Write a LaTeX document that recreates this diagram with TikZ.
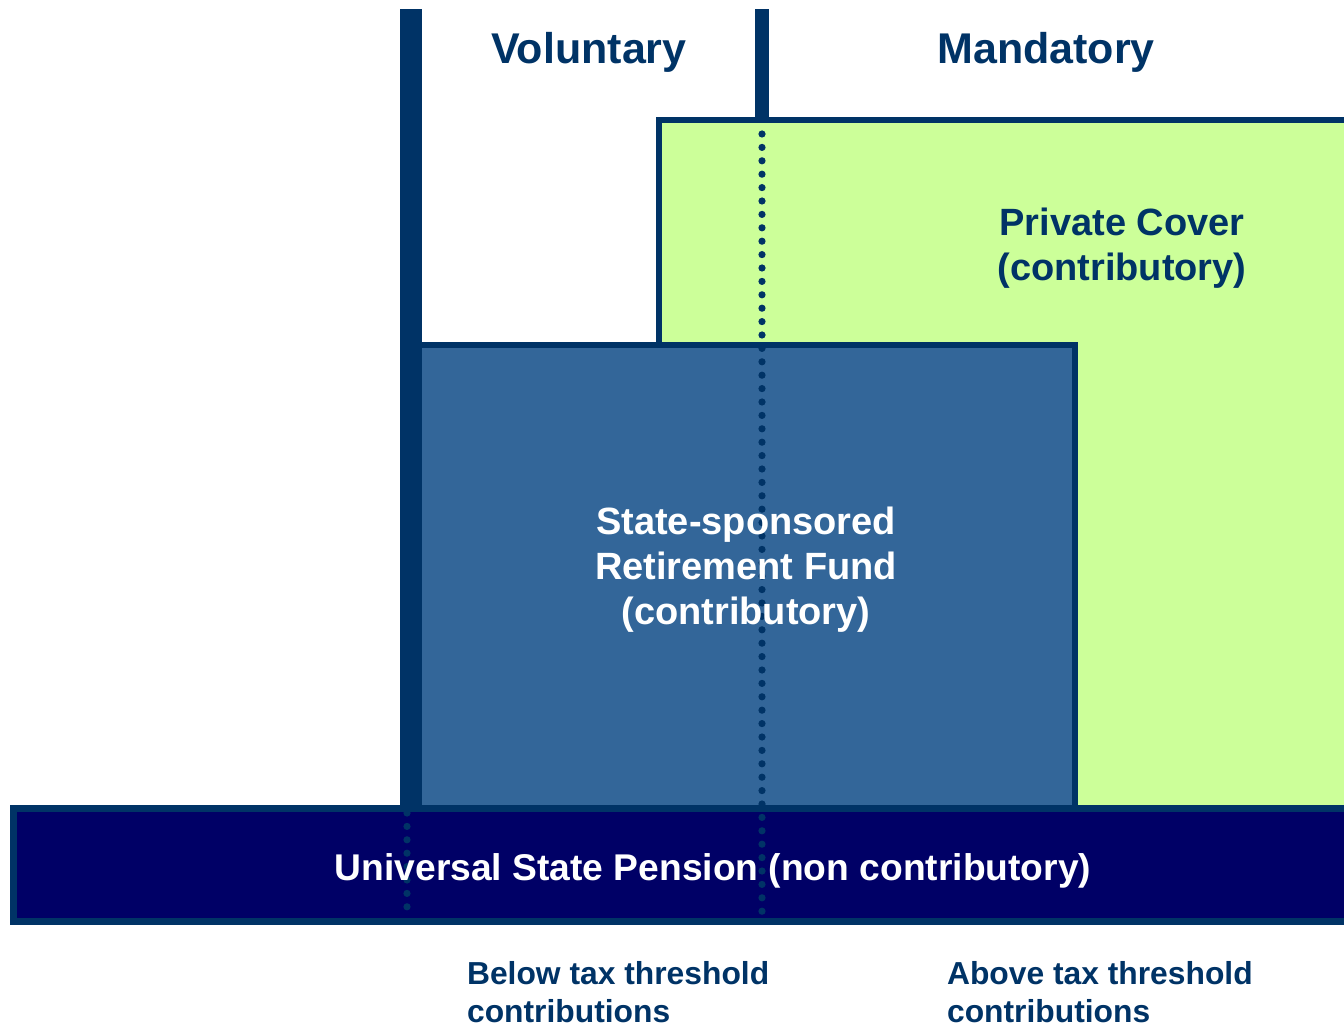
\documentclass[tikz,border=0pt]{standalone}
\usepackage{fontspec}
\setmainfont{Liberation Sans}
\definecolor{navy}{HTML}{003366}
\definecolor{deepnavy}{HTML}{000066}
\definecolor{lime}{HTML}{CCFF99}
\definecolor{steel}{HTML}{336699}
\begin{document}
\begin{tikzpicture}[x=0.5pt,y=-0.5pt,
    frame/.style={draw=navy,line width=3pt},
    dotline/.style={navy,line width=3.6pt,line cap=round,dash pattern=on 0pt off 6.7pt},
    head/.style={text=navy,font=\fontsize{21.5}{25}\selectfont\bfseries},
    boxtext/.style={align=center,font=\fontsize{19}{22.5}\selectfont\bfseries},
    foot/.style={text=navy,align=left,anchor=west,font=\fontsize{15.9}{19}\selectfont\bfseries}]
        \clip (0,0) rectangle (1344,1026);
        %% Private cover
        \draw[frame,fill=lime] (659,120.5) rectangle (1360,808);
        %% State fund
        \draw[frame,fill=steel] (411,345) rectangle (1075,808);
        %% Bars
        \fill[navy] (400,9) rectangle (422,808);
        \fill[navy] (755,9) rectangle (769,120);
        %% Universal pension
        \draw[navy,line width=3.5pt,fill=deepnavy] (13.5,808.5) rectangle (1360,921.5);
        %% Dotted dividers
        \draw[dotline] (762,134) -- (762,912);
        \draw[dotline] (407,813) -- (407,912);
        %% Labels
        \node[head] (vol) at (589,52) {Voluntary};
        \node[head] (man) at (1046,52) {Mandatory};
        \node[boxtext,text=navy] (priv) at (1122,248) {Private Cover\\(contributory)};
        \node[boxtext,text=white] (fund) at (746,570) {State-sponsored\\Retirement Fund\\(contributory)};
        \node[text=white,font=\fontsize{18.6}{22}\selectfont\bfseries] (pens) at (713,871) {Universal State Pension (non contributory)};
        \node[foot] (below) at (460,992) {Below tax threshold\\contributions};
        \node[foot] (above) at (940,992) {Above tax threshold\\contributions};
    \end{tikzpicture}
\end{document}
